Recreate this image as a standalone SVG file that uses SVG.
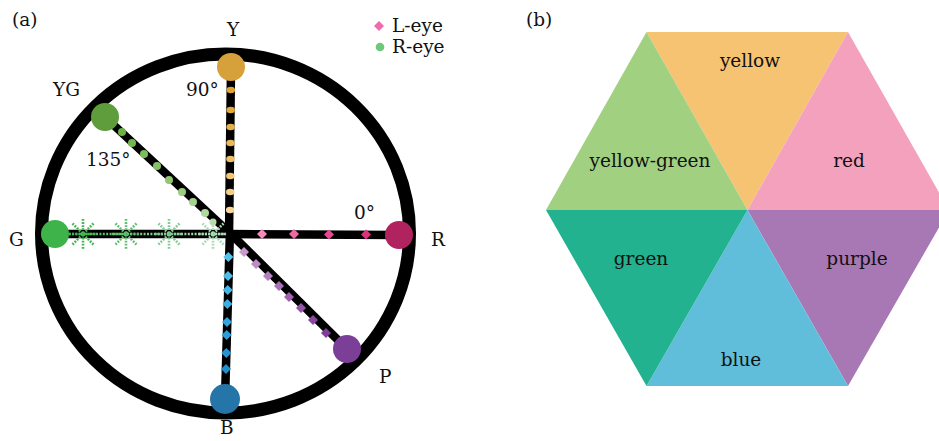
<svg xmlns="http://www.w3.org/2000/svg" xmlns:xlink="http://www.w3.org/1999/xlink" width="939" height="441" viewBox="0 0 939 441">
<style>
text{font-family:"DejaVu Serif","Liberation Serif",serif;font-size:18.5px;fill:#111}
.spoke{stroke:#000;stroke-width:8.5;stroke-linecap:butt;fill:none}
.ring{stroke:#000;stroke-width:13;fill:none}
.mid{text-anchor:middle}
</style>
<defs>
<linearGradient id="gG" gradientUnits="userSpaceOnUse" x1="60" y1="0" x2="225" y2="0">
<stop offset="0" stop-color="#3DB34A"/><stop offset="1" stop-color="#B8E4C4"/>
</linearGradient>
<g id="star" fill="none" stroke="currentColor" stroke-width="2.6" stroke-dasharray="1.8 1.3">
<line x1="-14" y1="0" x2="14" y2="0"/>
<line x1="0" y1="-15" x2="0" y2="15"/>
<line x1="-10.5" y1="-10.5" x2="10.5" y2="10.5"/>
<line x1="-10.5" y1="10.5" x2="10.5" y2="-10.5"/>
</g>
<path id="dia" d="M0,-5 L5,0 L0,5 L-5,0 Z"/>
</defs>

<text x="12" y="26">(a)</text>
<text x="526" y="26">(b)</text>

<!-- legend -->
<g id="legend">
<use xlink:href="#dia" x="379" y="26" fill="#F06AAE"/>
<text x="392" y="32">L-eye</text>
<circle cx="380" cy="47" r="4.3" fill="#6DC87A"/>
<text x="392" y="53">R-eye</text>
</g>

<ellipse class="ring" cx="225.5" cy="233.5" rx="184" ry="179.5"/>

<g id="connectors">
<line class="spoke" x1="231" y1="67" x2="229" y2="237"/>
<line class="spoke" x1="230" y1="230" x2="225" y2="399"/>
<line class="spoke" x1="105" y1="117" x2="233" y2="236"/>
<line class="spoke" x1="227" y1="230" x2="347" y2="349"/>
<line class="spoke" x1="55" y1="234" x2="232" y2="234"/>
<line class="spoke" x1="228" y1="234" x2="399" y2="235"/>
</g>

<g id="markers">
<g>
<ellipse cx="230.8" cy="90" rx="4.2" ry="3.2" fill="#E0A233"/>
<ellipse cx="230.7" cy="110" rx="4.2" ry="3.2" fill="#E3A93E"/>
<ellipse cx="230.6" cy="127" rx="4.2" ry="3.2" fill="#E6B04A"/>
<ellipse cx="230.5" cy="143" rx="4.2" ry="3.2" fill="#E9B757"/>
<ellipse cx="230.4" cy="159" rx="4.2" ry="3.2" fill="#ECBF66"/>
<ellipse cx="230.3" cy="176" rx="4.2" ry="3.2" fill="#EFC775"/>
<ellipse cx="230.2" cy="192" rx="4.2" ry="3.2" fill="#F2CF86"/>
<ellipse cx="230.1" cy="210" rx="4.2" ry="3.2" fill="#F4D798"/>
</g>
<g>
<circle cx="122" cy="132" r="4" fill="#6BB144"/>
<circle cx="132" cy="143" r="4" fill="#74B650"/>
<circle cx="144" cy="154" r="4" fill="#7DBB5B"/>
<circle cx="157" cy="166" r="4" fill="#87C167"/>
<circle cx="169" cy="180" r="4" fill="#91C673"/>
<circle cx="182" cy="192" r="4" fill="#9BCC80"/>
<circle cx="193" cy="202" r="4" fill="#A6D28E"/>
<circle cx="205" cy="213" r="4" fill="#B1D89C"/>
<circle cx="213" cy="222" r="3.5" fill="#BCDEAA"/>
</g>
<line x1="62" y1="234" x2="226" y2="234" stroke="url(#gG)" stroke-width="2.4" stroke-dasharray="2 1.4"/>
<use xlink:href="#star" x="83" y="234" color="#45B652"/>
<use xlink:href="#star" x="126" y="234" color="#62BE70"/>
<use xlink:href="#star" x="169" y="234" color="#84CB93"/>
<use xlink:href="#star" x="213" y="234" color="#A8DAB4"/>
<g>
<use xlink:href="#dia" x="262" y="234" fill="#F48CBB"/>
<use xlink:href="#dia" x="294" y="234" fill="#EE68A5"/>
<use xlink:href="#dia" x="329" y="234.5" fill="#E84890"/>
<use xlink:href="#dia" x="366" y="234.5" fill="#E0307C"/>
</g>
<g>
<use xlink:href="#dia" x="228.3" y="257" fill="#55C4EC"/>
<use xlink:href="#dia" x="228" y="276" fill="#4DBDE8"/>
<use xlink:href="#dia" x="227.7" y="290" fill="#44B5E4"/>
<use xlink:href="#dia" x="227.4" y="304" fill="#3CADE0"/>
<use xlink:href="#dia" x="227" y="322" fill="#34A5DC"/>
<use xlink:href="#dia" x="226.7" y="335" fill="#2C9DD7"/>
<use xlink:href="#dia" x="226.3" y="353" fill="#2595D2"/>
<use xlink:href="#dia" x="226" y="369" fill="#1E8ECD"/>
</g>
<g>
<use xlink:href="#dia" x="244" y="252" fill="#C79BCB"/>
<use xlink:href="#dia" x="256" y="264" fill="#BC8CC3"/>
<use xlink:href="#dia" x="268" y="276" fill="#B27EBC"/>
<use xlink:href="#dia" x="279" y="286" fill="#A870B5"/>
<use xlink:href="#dia" x="289" y="297" fill="#9E62AE"/>
<use xlink:href="#dia" x="301" y="308" fill="#9455A7"/>
<use xlink:href="#dia" x="313" y="320" fill="#8A49A0"/>
<use xlink:href="#dia" x="326" y="333" fill="#823F9A"/>
</g>
</g>

<g id="node-Y"><circle cx="231" cy="67" r="14" fill="#D6A03B"/><text class="mid" x="233" y="36">Y</text><text x="186" y="96">90°</text></g>
<g id="node-YG"><circle cx="105" cy="117" r="14" fill="#5E9C3C"/><text x="53" y="96">YG</text><text x="86" y="166">135°</text></g>
<g id="node-G"><circle cx="55" cy="234" r="14" fill="#3DB34A"/><text x="9" y="246">G</text></g>
<g id="node-R"><circle cx="399" cy="235" r="14" fill="#B0235F"/><text x="431" y="246">R</text><text x="354" y="219">0°</text></g>
<g id="node-P"><circle cx="347" cy="349" r="14" fill="#7C3F98"/><text x="379" y="383">P</text></g>
<g id="node-B"><circle cx="225" cy="399" r="15" fill="#2675A8"/><text x="220" y="434">B</text></g>

<g id="hexagon">
<g id="tri-yellow"><polygon points="646.5,32 848,32 747.5,210" fill="#F6C373"/><text class="mid" x="750" y="67">yellow</text></g>
<g id="tri-red"><polygon points="848,32 949,210 747.5,210" fill="#F4A1BE"/><text class="mid" x="849" y="167">red</text></g>
<g id="tri-purple"><polygon points="747.5,210 949,210 848,386" fill="#A878B4"/><text class="mid" x="857" y="265">purple</text></g>
<g id="tri-blue"><polygon points="747.5,210 848,386 646.5,386" fill="#60BEDB"/><text class="mid" x="741" y="366">blue</text></g>
<g id="tri-green"><polygon points="546,210 747.5,210 646.5,386" fill="#22B28F"/><text class="mid" x="641" y="265">green</text></g>
<g id="tri-yellowgreen"><polygon points="646.5,32 747.5,210 546,210" fill="#A1D081"/><text class="mid" x="650" y="167">yellow-green</text></g>
</g>
</svg>
